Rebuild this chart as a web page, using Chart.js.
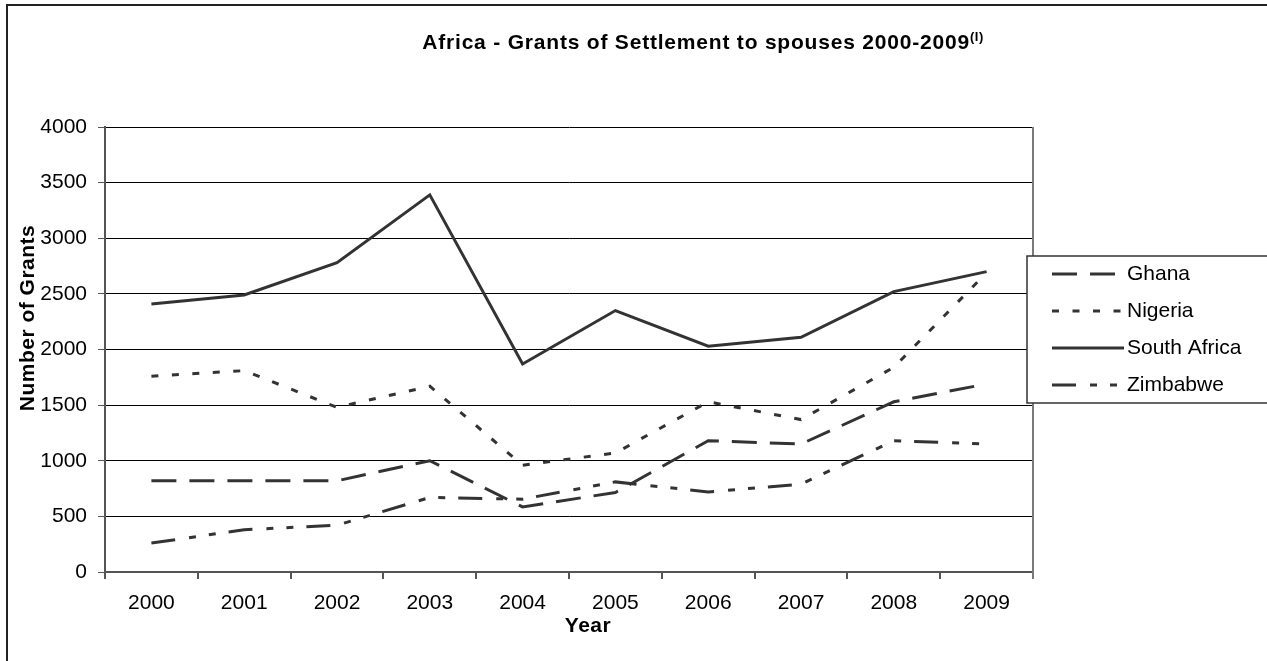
<!DOCTYPE html>
<html>
<head>
<meta charset="utf-8">
<title>Africa - Grants of Settlement to spouses 2000-2009</title>
<script src="https://cdn.jsdelivr.net/npm/chart.js@4/dist/chart.umd.min.js"></script>
<style>
  html, body { margin: 0; padding: 0; background: #fff; }
  #wrap { width: 1267px; height: 661px; position: relative; }
  canvas { display: block; }
</style>
</head>
<body>
<div id="wrap"><canvas id="chart" width="1267" height="661"></canvas></div>
<script>
// Grants of settlement to spouses, by nationality, 2000-2009
const years = ['2000', '2001', '2002', '2003', '2004', '2005', '2006', '2007', '2008', '2009'];
const ghana = [820, 820, 820, 1000, 585, 715, 1180, 1150, 1530, 1690];
const nigeria = [1760, 1810, 1480, 1670, 960, 1070, 1530, 1370, 1840, 2690];
const southAfrica = [2410, 2490, 2780, 3390, 1870, 2350, 2030, 2110, 2520, 2700];
const zimbabwe = [260, 380, 420, 670, 655, 810, 720, 790, 1180, 1150];
const yTicks = [0, 500, 1000, 1500, 2000, 2500, 3000, 3500, 4000];

const FONT = '"Liberation Sans", Arial, sans-serif';
const INK = '#333333';

function series(label, data, dash) {
  return {
    label, data,
    borderColor: INK,
    backgroundColor: INK,
    borderWidth: 3,
    borderDash: dash,
    borderCapStyle: 'butt',
    borderJoinStyle: 'miter',
    pointRadius: 0,
    pointHoverRadius: 0,
    tension: 0,
    fill: false
  };
}

// Frame, title, axis titles, right plot border and legend box
const decorations = {
  id: 'decorations',
  afterDraw(chart) {
    const ctx = chart.ctx;
    const area = chart.chartArea;
    ctx.save();

    // right edge of the plot area
    ctx.strokeStyle = '#7a7a7a';
    ctx.lineWidth = 2;
    ctx.beginPath();
    ctx.moveTo(area.right, area.top);
    ctx.lineTo(area.right, area.bottom + 7);
    ctx.stroke();

    // outer frame of the chart
    ctx.strokeStyle = '#222';
    ctx.lineWidth = 2;
    ctx.strokeRect(7, 5, 1400, 1000);

    // title with superscript note marker
    ctx.fillStyle = '#000';
    ctx.textBaseline = 'alphabetic';
    ctx.textAlign = 'left';
    const mainFont = 'bold 21px ' + FONT;
    const supFont = 'bold 13px ' + FONT;
    ctx.font = mainFont;
    ctx.letterSpacing = '0.8px';
    const main = 'Africa - Grants of Settlement to spouses 2000-2009';
    const w1 = ctx.measureText(main).width;
    ctx.font = supFont;
    ctx.letterSpacing = '0.5px';
    const sup = '(I)';
    const w2 = ctx.measureText(sup).width;
    const x0 = 703 - (w1 + w2) / 2;
    ctx.font = mainFont;
    ctx.letterSpacing = '0.8px';
    ctx.fillText(main, x0, 49);
    ctx.font = supFont;
    ctx.letterSpacing = '0.5px';
    ctx.fillText(sup, x0 + w1, 40.5);

    // axis titles
    ctx.letterSpacing = '0.5px';
    ctx.font = 'bold 21px ' + FONT;
    ctx.textAlign = 'center';
    ctx.fillText('Year', 588, 632);
    ctx.save();
    ctx.translate(34, 318);
    ctx.rotate(-Math.PI / 2);
    ctx.fillText('Number of Grants', 0, 0);
    ctx.restore();
    ctx.letterSpacing = '0px';

    // legend
    const box = { x: 1027, y: 256, w: 400, h: 147 };
    ctx.fillStyle = '#fff';
    ctx.fillRect(box.x, box.y, box.w, box.h);
    ctx.strokeStyle = '#333';
    ctx.lineWidth = 1.5;
    ctx.strokeRect(box.x, box.y, box.w, box.h);
    const sets = chart.data.datasets;
    const step = box.h / sets.length;
    ctx.font = '21px ' + FONT;
    ctx.textAlign = 'left';
    ctx.textBaseline = 'middle';
    sets.forEach((ds, i) => {
      const cy = Math.round(box.y + step * (i + 0.5));
      ctx.strokeStyle = ds.borderColor;
      ctx.lineWidth = ds.borderWidth;
      ctx.lineCap = 'butt';
      ctx.setLineDash(ds.borderDash || []);
      ctx.beginPath();
      ctx.moveTo(1052, cy);
      ctx.lineTo(1124, cy);
      ctx.stroke();
      ctx.setLineDash([]);
      ctx.fillStyle = '#000';
      ctx.fillText(ds.label, 1127, cy);
    });
    ctx.restore();
  }
};

new Chart(document.getElementById('chart'), {
  type: 'line',
  data: {
    labels: years,
    datasets: [
      series('Ghana', ghana, [25, 13]),
      series('Nigeria', nigeria, [7, 13.5]),
      series('South Africa', southAfrica, []),
      series('Zimbabwe', zimbabwe, [24, 14, 7, 13, 7, 13])
    ]
  },
  options: {
    responsive: false,
    animation: false,
    devicePixelRatio: 1,
    layout: { padding: { top: 127, right: 234, bottom: 0, left: 0 } },
    plugins: {
      legend: { display: false },
      title: { display: false },
      tooltip: { enabled: false }
    },
    scales: {
      x: {
        type: 'category',
        offset: true,
        afterFit(scale) { scale.height = 89; },
        grid: {
          offset: true,
          drawOnChartArea: false,
          drawTicks: true,
          tickLength: 7,
          color: '#555',
          lineWidth: 2
        },
        border: { display: true, color: '#555', width: 2 },
        ticks: {
          color: '#000',
          font: { family: FONT, size: 21 },
          padding: 12,
          maxRotation: 0,
          autoSkip: false
        }
      },
      y: {
        min: 0,
        max: 4000,
        afterFit(scale) { scale.width = 105; },
        afterBuildTicks(scale) { scale.ticks = yTicks.map(v => ({ value: v })); },
        grid: {
          color: '#000',
          lineWidth: 1,
          drawTicks: true,
          tickLength: 7,
          tickColor: '#555'
        },
        border: { display: true, color: '#555', width: 2 },
        ticks: {
          color: '#000',
          font: { family: FONT, size: 21 },
          padding: 11,
          callback: (v) => String(v)
        }
      }
    }
  },
  plugins: [decorations]
});
</script>
</body>
</html>
